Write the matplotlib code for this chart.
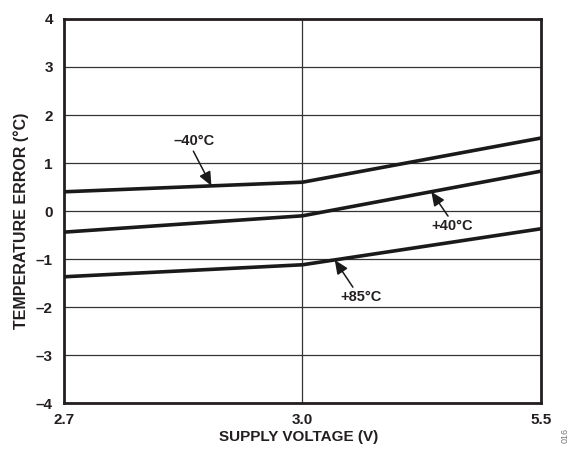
import matplotlib
matplotlib.use("Agg")
import matplotlib.pyplot as plt

plt.rcParams['font.family'] = ['Liberation Sans', 'DejaVu Sans']

x_labels = ["2.7", "3.0", "5.5"]
x_pos = [0, 1, 2]
m40 = [0.40, 0.60, 1.52]
p40 = [-0.44, -0.10, 0.83]
p85 = [-1.37, -1.12, -0.37]
y_ticks = [-4, -3, -2, -1, 0, 1, 2, 3, 4]
y_labels = ["–4", "–3", "–2", "–1", "0", "1", "2", "3", "4"]

fig = plt.figure(figsize=(5.74, 4.49), dpi=100)
ax = fig.add_axes([0.1115, 0.1024, 0.831, 0.8553])

for y in y_ticks:
    ax.axhline(y, color='#333333', lw=0.9, zorder=1)
ax.axvline(1, color='#333333', lw=0.9, zorder=1)

for s in (m40, p40, p85):
    ax.plot(x_pos, s, color='#1a1a1a', lw=2.6, zorder=3, solid_capstyle='butt')

ax.set_xlim(0, 2)
ax.set_ylim(-4, 4)
ax.set_xticks(x_pos)
ax.set_xticklabels(x_labels)
ax.set_yticks(y_ticks)
ax.set_yticklabels(y_labels)
ax.tick_params(axis='x', length=0, labelsize=11, pad=7)
ax.tick_params(axis='y', length=0, labelsize=11, pad=8)
for lab in ax.get_xticklabels() + ax.get_yticklabels():
    lab.set_fontweight('bold')
    lab.set_color('#231f20')
for sp in ax.spines.values():
    sp.set_linewidth(2)
    sp.set_color('#231f20')

ax.set_xlabel("SUPPLY VOLTAGE (V)", fontsize=11, fontweight='bold', color='#231f20')
ax.set_ylabel("TEMPERATURE ERROR (°C)", fontsize=11.5, fontweight='bold', color='#231f20')
ax.xaxis.set_label_coords(0.4916, -0.070)
ax.yaxis.set_label_coords(-0.073, 0.474)

ap = dict(arrowstyle='-|>,head_length=0.8,head_width=0.35', color='#1a1a1a', lw=1.1, shrinkA=0, shrinkB=0)
ax.annotate("–40°C", xy=(0.618, 0.60 + (0.40 - 0.60) * (1 - 0.618)), xytext=(0.545, 1.45),
            fontsize=10.5, fontweight='bold', ha='center', va='center', color='#231f20',
            arrowprops=dict(ap, relpos=(0.45, 0.0)))
ax.annotate("+40°C", xy=(1.54, -0.10 + (0.83 + 0.10) * 0.54), xytext=(1.627, -0.31),
            fontsize=10.5, fontweight='bold', ha='center', va='center', color='#231f20',
            arrowprops=dict(ap, relpos=(0.45, 1.0)))
ax.annotate("+85°C", xy=(1.135, -1.12 + (-0.37 + 1.12) * 0.135), xytext=(1.245, -1.79),
            fontsize=10.5, fontweight='bold', ha='center', va='center', color='#231f20',
            arrowprops=dict(ap, relpos=(0.35, 1.0)))

fig.text(0.985, 0.03, "016", rotation=90, fontsize=6.5, color='#777777', ha='center', va='center')

fig.savefig("out.png", dpi=100)
